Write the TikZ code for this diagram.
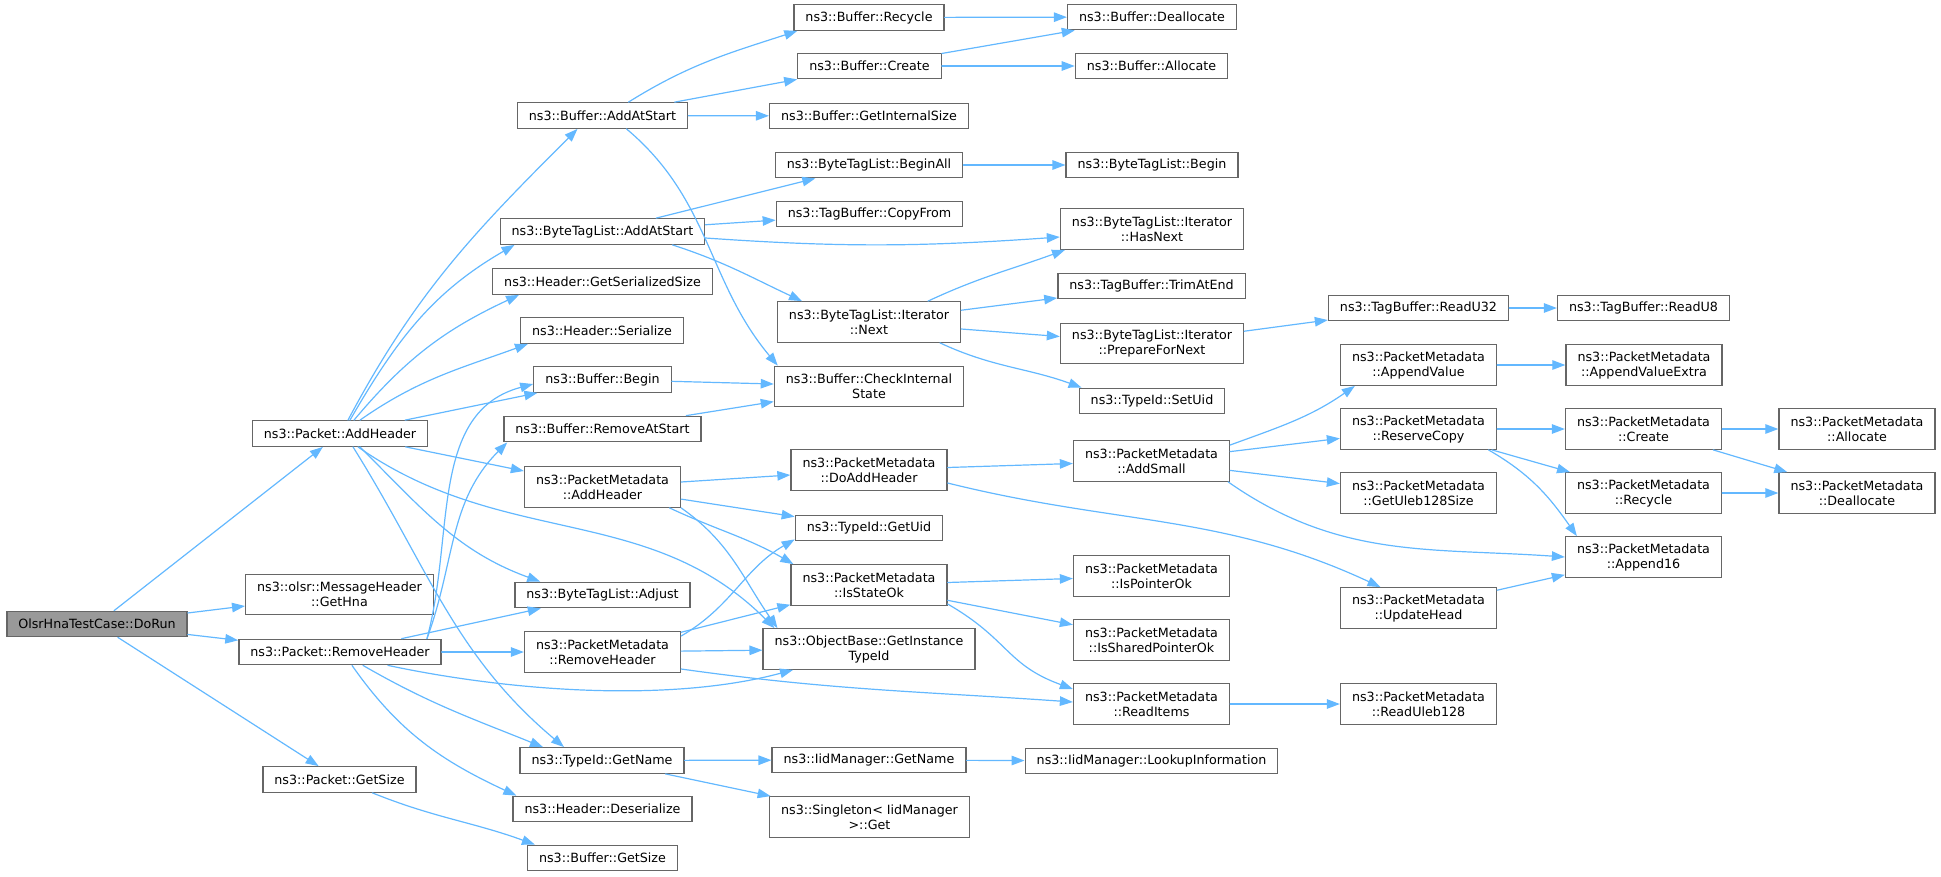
\documentclass[tikz,border=0pt]{standalone}
\usepackage{fontspec}
\setmainfont{DejaVu Sans}
\usetikzlibrary{arrows.meta}
\definecolor{callblue}{HTML}{63B8FF}
\definecolor{boxline}{HTML}{666666}
\definecolor{rootfill}{HTML}{999999}

\begin{document}
\begin{tikzpicture}[x=1pt, y=1pt, line cap=round,
    fn/.style={draw=boxline, fill=white, line width=1.3pt, inner xsep=11.5pt, inner ysep=0pt,
               minimum height=25.5pt, align=center, font=\fontsize{12.7}{15}\selectfont},
    fntwo/.style={fn, minimum height=40.5pt},
    root/.style={fn, fill=rootfill},
    call/.style={draw=callblue, line width=1.2pt, -{Triangle[length=13pt,width=9.5pt]}}]
            \useasboundingbox (0,0) rectangle (1941,-876);
            % caller
            \node[root] (doRun) at (97,-624) {OlsrHnaTestCase::DoRun};
            % first column of callees
            \node[fn] (pktAddHeader) at (340,-433.5) {ns3::Packet::AddHeader};
            \node[fntwo] (olsrGetHna) at (339.5,-594.5) {ns3::olsr::MessageHeader\\::GetHna};
            \node[fn] (pktRemoveHeader) at (340,-652) {ns3::Packet::RemoveHeader};
            \node[fn] (pktGetSize) at (339.5,-779.5) {ns3::Packet::GetSize};
            % second column
            \node[fn] (bufAddAtStart) at (602.5,-115.5) {ns3::Buffer::AddAtStart};
            \node[fn] (btlAddAtStart) at (602.5,-231.5) {ns3::ByteTagList::AddAtStart};
            \node[fn] (hdrSerSize) at (602.5,-281.5) {ns3::Header::GetSerializedSize};
            \node[fn] (hdrSerialize) at (602,-330.5) {ns3::Header::Serialize};
            \node[fn] (bufBegin) at (602.5,-379.5) {ns3::Buffer::Begin};
            \node[fn] (bufRemoveAtStart) at (602.5,-429) {ns3::Buffer::RemoveAtStart};
            \node[fntwo] (pmAddHeader) at (602.5,-487) {ns3::PacketMetadata\\::AddHeader};
            \node[fn] (btlAdjust) at (602.5,-595) {ns3::ByteTagList::Adjust};
            \node[fntwo] (pmRemoveHeader) at (602.5,-652) {ns3::PacketMetadata\\::RemoveHeader};
            \node[fn] (tidGetName) at (602,-760.5) {ns3::TypeId::GetName};
            \node[fn] (hdrDeserialize) at (602.5,-809) {ns3::Header::Deserialize};
            \node[fn] (bufGetSize) at (602.5,-858) {ns3::Buffer::GetSize};
            % third column
            \node[fn] (bufRecycle) at (869,-17.5) {ns3::Buffer::Recycle};
            \node[fn] (bufCreate) at (869.5,-66) {ns3::Buffer::Create};
            \node[fn] (bufIntSize) at (869,-116) {ns3::Buffer::GetInternalSize};
            \node[fn] (btlBeginAll) at (869,-165) {ns3::ByteTagList::BeginAll};
            \node[fn] (tbCopyFrom) at (869.5,-214) {ns3::TagBuffer::CopyFrom};
            \node[fntwo] (itNext) at (869,-322) {ns3::ByteTagList::Iterator\\::Next};
            \node[fntwo] (bufCheck) at (869,-386.5) {ns3::Buffer::CheckInternal\\State};
            \node[fntwo] (pmDoAddHeader) at (869,-470) {ns3::PacketMetadata\\::DoAddHeader};
            \node[fn] (tidGetUid) at (869,-528) {ns3::TypeId::GetUid};
            \node[fntwo] (pmIsStateOk) at (869,-585) {ns3::PacketMetadata\\::IsStateOk};
            \node[fntwo] (obTypeId) at (869,-649) {ns3::ObjectBase::GetInstance\\TypeId};
            \node[fn] (iidGetName) at (869,-760) {ns3::IidManager::GetName};
            \node[fntwo] (sgGet) at (869.5,-817) {ns3::Singleton< IidManager\\ >::Get};
            % fourth column
            \node[fn] (bufDealloc) at (1152,-17) {ns3::Buffer::Deallocate};
            \node[fn] (bufAlloc) at (1151.5,-66) {ns3::Buffer::Allocate};
            \node[fn] (btlBegin) at (1152,-165) {ns3::ByteTagList::Begin};
            \node[fntwo] (itHasNext) at (1152,-229) {ns3::ByteTagList::Iterator\\::HasNext};
            \node[fn] (tbTrimAtEnd) at (1151.5,-286) {ns3::TagBuffer::TrimAtEnd};
            \node[fntwo] (itPrepare) at (1152,-343.5) {ns3::ByteTagList::Iterator\\::PrepareForNext};
            \node[fn] (tidSetUid) at (1152,-401) {ns3::TypeId::SetUid};
            \node[fntwo] (pmAddSmall) at (1151.5,-461) {ns3::PacketMetadata\\::AddSmall};
            \node[fntwo] (pmIsPointerOk) at (1151.5,-576) {ns3::PacketMetadata\\::IsPointerOk};
            \node[fntwo] (pmIsSharedOk) at (1151.5,-640) {ns3::PacketMetadata\\::IsSharedPointerOk};
            \node[fntwo] (pmReadItems) at (1151.5,-704) {ns3::PacketMetadata\\::ReadItems};
            \node[fn] (iidLookup) at (1151.5,-761) {ns3::IidManager::LookupInformation};
            % fifth column
            \node[fn] (tbReadU32) at (1418.5,-308) {ns3::TagBuffer::ReadU32};
            \node[fntwo] (pmAppendValue) at (1418.5,-365) {ns3::PacketMetadata\\::AppendValue};
            \node[fntwo] (pmReserveCopy) at (1418.5,-429) {ns3::PacketMetadata\\::ReserveCopy};
            \node[fntwo] (pmUleb128Size) at (1418.5,-493) {ns3::PacketMetadata\\::GetUleb128Size};
            \node[fntwo] (pmUpdateHead) at (1418.5,-608) {ns3::PacketMetadata\\::UpdateHead};
            \node[fntwo] (pmReadUleb) at (1418.5,-704) {ns3::PacketMetadata\\::ReadUleb128};
            % sixth column
            \node[fn] (tbReadU8) at (1643.5,-308) {ns3::TagBuffer::ReadU8};
            \node[fntwo] (pmAppendExtra) at (1644,-365) {ns3::PacketMetadata\\::AppendValueExtra};
            \node[fntwo] (pmCreate) at (1643.5,-429) {ns3::PacketMetadata\\::Create};
            \node[fntwo] (pmRecycle) at (1643.5,-493) {ns3::PacketMetadata\\::Recycle};
            \node[fntwo] (pmAppend16) at (1643.5,-557) {ns3::PacketMetadata\\::Append16};
            % seventh column
            \node[fntwo] (pmAllocate) at (1857,-429) {ns3::PacketMetadata\\::Allocate};
            \node[fntwo] (pmDeallocate) at (1857,-493) {ns3::PacketMetadata\\::Deallocate};

            % calls from DoRun
            \draw[call] (doRun) -- (pktAddHeader);
            \draw[call] (doRun) -- (olsrGetHna);
            \draw[call] (doRun) -- (pktRemoveHeader);
            \draw[call] (doRun) -- (pktGetSize);
            % calls from Packet::AddHeader
            \draw[call] ([xshift=8]pktAddHeader.north) to[out=62,in=-135] ([xshift=-25]bufAddAtStart.south);
            \draw[call] ([xshift=10]pktAddHeader.north) to[out=60,in=-150] ([xshift=15]btlAddAtStart.south west);
            \draw[call] ([xshift=14]pktAddHeader.north) to[out=50,in=-155] ([xshift=27]hdrSerSize.south west);
            \draw[call] ([xshift=20]pktAddHeader.north) to[out=35,in=-160] ([xshift=8]hdrSerialize.south west);
            \draw[call] (pktAddHeader) -- (bufBegin);
            \draw[call] (pktAddHeader) -- (pmAddHeader);
            \draw[call] ([xshift=20]pktAddHeader.south) to[out=-45,in=160] ([xshift=26]btlAdjust.north west);
            \draw[call] ([xshift=13]pktAddHeader.south) to[out=-58,in=140] ([xshift=-38]tidGetName.north);
            \draw[call] ([xshift=18]pktAddHeader.south) to[out=-35,in=135] ([xshift=12]obTypeId.north west);
            % calls from Packet::RemoveHeader
            \draw[call] ([xshift=87]pktRemoveHeader.north) to[out=75,in=195] ([yshift=-4.5]bufBegin.west);
            \draw[call] ([xshift=87]pktRemoveHeader.north) to[out=70,in=-135] ([xshift=4]bufRemoveAtStart.south west);
            \draw[call] (pktRemoveHeader) -- (btlAdjust);
            \draw[call] (pktRemoveHeader) -- (pmRemoveHeader);
            \draw[call] ([xshift=48]pktRemoveHeader.south) to[out=-12,in=-165,looseness=0.8] ([xshift=-76]obTypeId.south);
            \draw[call] ([xshift=23]pktRemoveHeader.south) to[out=-30,in=158] ([xshift=-59]tidGetName.north);
            \draw[call] ([xshift=12]pktRemoveHeader.south) to[out=-55,in=155] ([xshift=4]hdrDeserialize.north west);
            % Packet::GetSize
            \draw[call] ([xshift=33]pktGetSize.south) to[out=-22,in=160] ([xshift=8]bufGetSize.north west);
            % Buffer::AddAtStart
            \draw[call] ([xshift=26]bufAddAtStart.north) to[out=32,in=-162] ([xshift=4]bufRecycle.south west);
            \draw[call] (bufAddAtStart) -- (bufCreate);
            \draw[call] (bufAddAtStart) -- (bufIntSize);
            \draw[call] ([xshift=24]bufAddAtStart.south) to[out=-40,in=130] ([xshift=4]bufCheck.north west);
            \draw[call] (bufRecycle) -- (bufDealloc);
            \draw[call] (bufCreate) -- (bufDealloc);
            \draw[call] (bufCreate) -- (bufAlloc);
            % ByteTagList::AddAtStart
            \draw[call] (btlAddAtStart) -- (btlBeginAll);
            \draw[call] (btlAddAtStart) -- (tbCopyFrom);
            \draw[call] ([yshift=-6.5]btlAddAtStart.east) to[out=-4,in=184] ([yshift=-8]itHasNext.west);
            \draw[call] ([xshift=70]btlAddAtStart.south) to[out=-18,in=155] ([xshift=-67]itNext.north);
            \draw[call] (btlBeginAll) -- (btlBegin);
            % ByteTagList::Iterator::Next
            \draw[call] ([xshift=59]itNext.north) to[out=25,in=-160] ([xshift=-87]itHasNext.south);
            \draw[call] (itNext) -- (tbTrimAtEnd);
            \draw[call] (itNext) -- (itPrepare);
            \draw[call] ([xshift=71]itNext.south) to[out=-25,in=160] ([xshift=3]tidSetUid.north west);
            \draw[call] (itPrepare) -- (tbReadU32);
            \draw[call] (tbReadU32) -- (tbReadU8);
            % into CheckInternalState
            \draw[call] (bufBegin) -- (bufCheck);
            \draw[call] (bufRemoveAtStart) -- (bufCheck);
            % PacketMetadata::AddHeader
            \draw[call] (pmAddHeader) -- (pmDoAddHeader);
            \draw[call] (pmAddHeader) -- (tidGetUid);
            \draw[call] ([xshift=67]pmAddHeader.south) to[out=-25,in=150] ([xshift=3]pmIsStateOk.north west);
            \draw[call] (pmAddHeader.south east) to[out=-35,in=125] ([xshift=15]obTypeId.north west);
            % PacketMetadata::RemoveHeader
            \draw[call] ([yshift=16]pmRemoveHeader.east) to[out=30,in=-150] ([yshift=2]tidGetUid.south west);
            \draw[call] (pmRemoveHeader) -- (pmIsStateOk);
            \draw[call] (pmRemoveHeader) -- (obTypeId);
            \draw[call] ([yshift=-17]pmRemoveHeader.east) to[out=-8,in=176] ([yshift=2]pmReadItems.west);
            % DoAddHeader and IsStateOk
            \draw[call] (pmDoAddHeader) -- (pmAddSmall);
            \draw[call] ([yshift=-13]pmDoAddHeader.east) to[out=-14,in=155] ([xshift=-38]pmUpdateHead.north);
            \draw[call] (pmIsStateOk) -- (pmIsPointerOk);
            \draw[call] (pmIsStateOk) -- (pmIsSharedOk);
            \draw[call] ([yshift=-19]pmIsStateOk.east) to[out=-30,in=160,looseness=1.2] ([yshift=15]pmReadItems.west);
            % AddSmall
            \draw[call] ([yshift=16]pmAddSmall.east) to[out=20,in=-145] ([xshift=15]pmAppendValue.south west);
            \draw[call] (pmAddSmall) -- (pmReserveCopy);
            \draw[call] (pmAddSmall) -- (pmUleb128Size);
            \draw[call] ([xshift=-2]pmAddSmall.south east) to[out=-35,in=176] (pmAppend16.west);
            \draw[call] (pmAppendValue) -- (pmAppendExtra);
            % ReserveCopy and below
            \draw[call] (pmReserveCopy) -- (pmCreate);
            \draw[call] (pmReserveCopy) -- (pmRecycle);
            \draw[call] ([xshift=70]pmReserveCopy.south) to[out=-30,in=125] ([xshift=12]pmAppend16.north west);
            \draw[call] (pmCreate) -- (pmAllocate);
            \draw[call] (pmCreate) -- (pmDeallocate);
            \draw[call] (pmRecycle) -- (pmDeallocate);
            \draw[call] (pmUpdateHead) -- (pmAppend16);
            \draw[call] (pmReadItems) -- (pmReadUleb);
            % TypeId::GetName
            \draw[call] (tidGetName) -- (iidGetName);
            \draw[call] (tidGetName) -- (sgGet);
            \draw[call] (iidGetName) -- (iidLookup);
        \end{tikzpicture}
\end{document}
